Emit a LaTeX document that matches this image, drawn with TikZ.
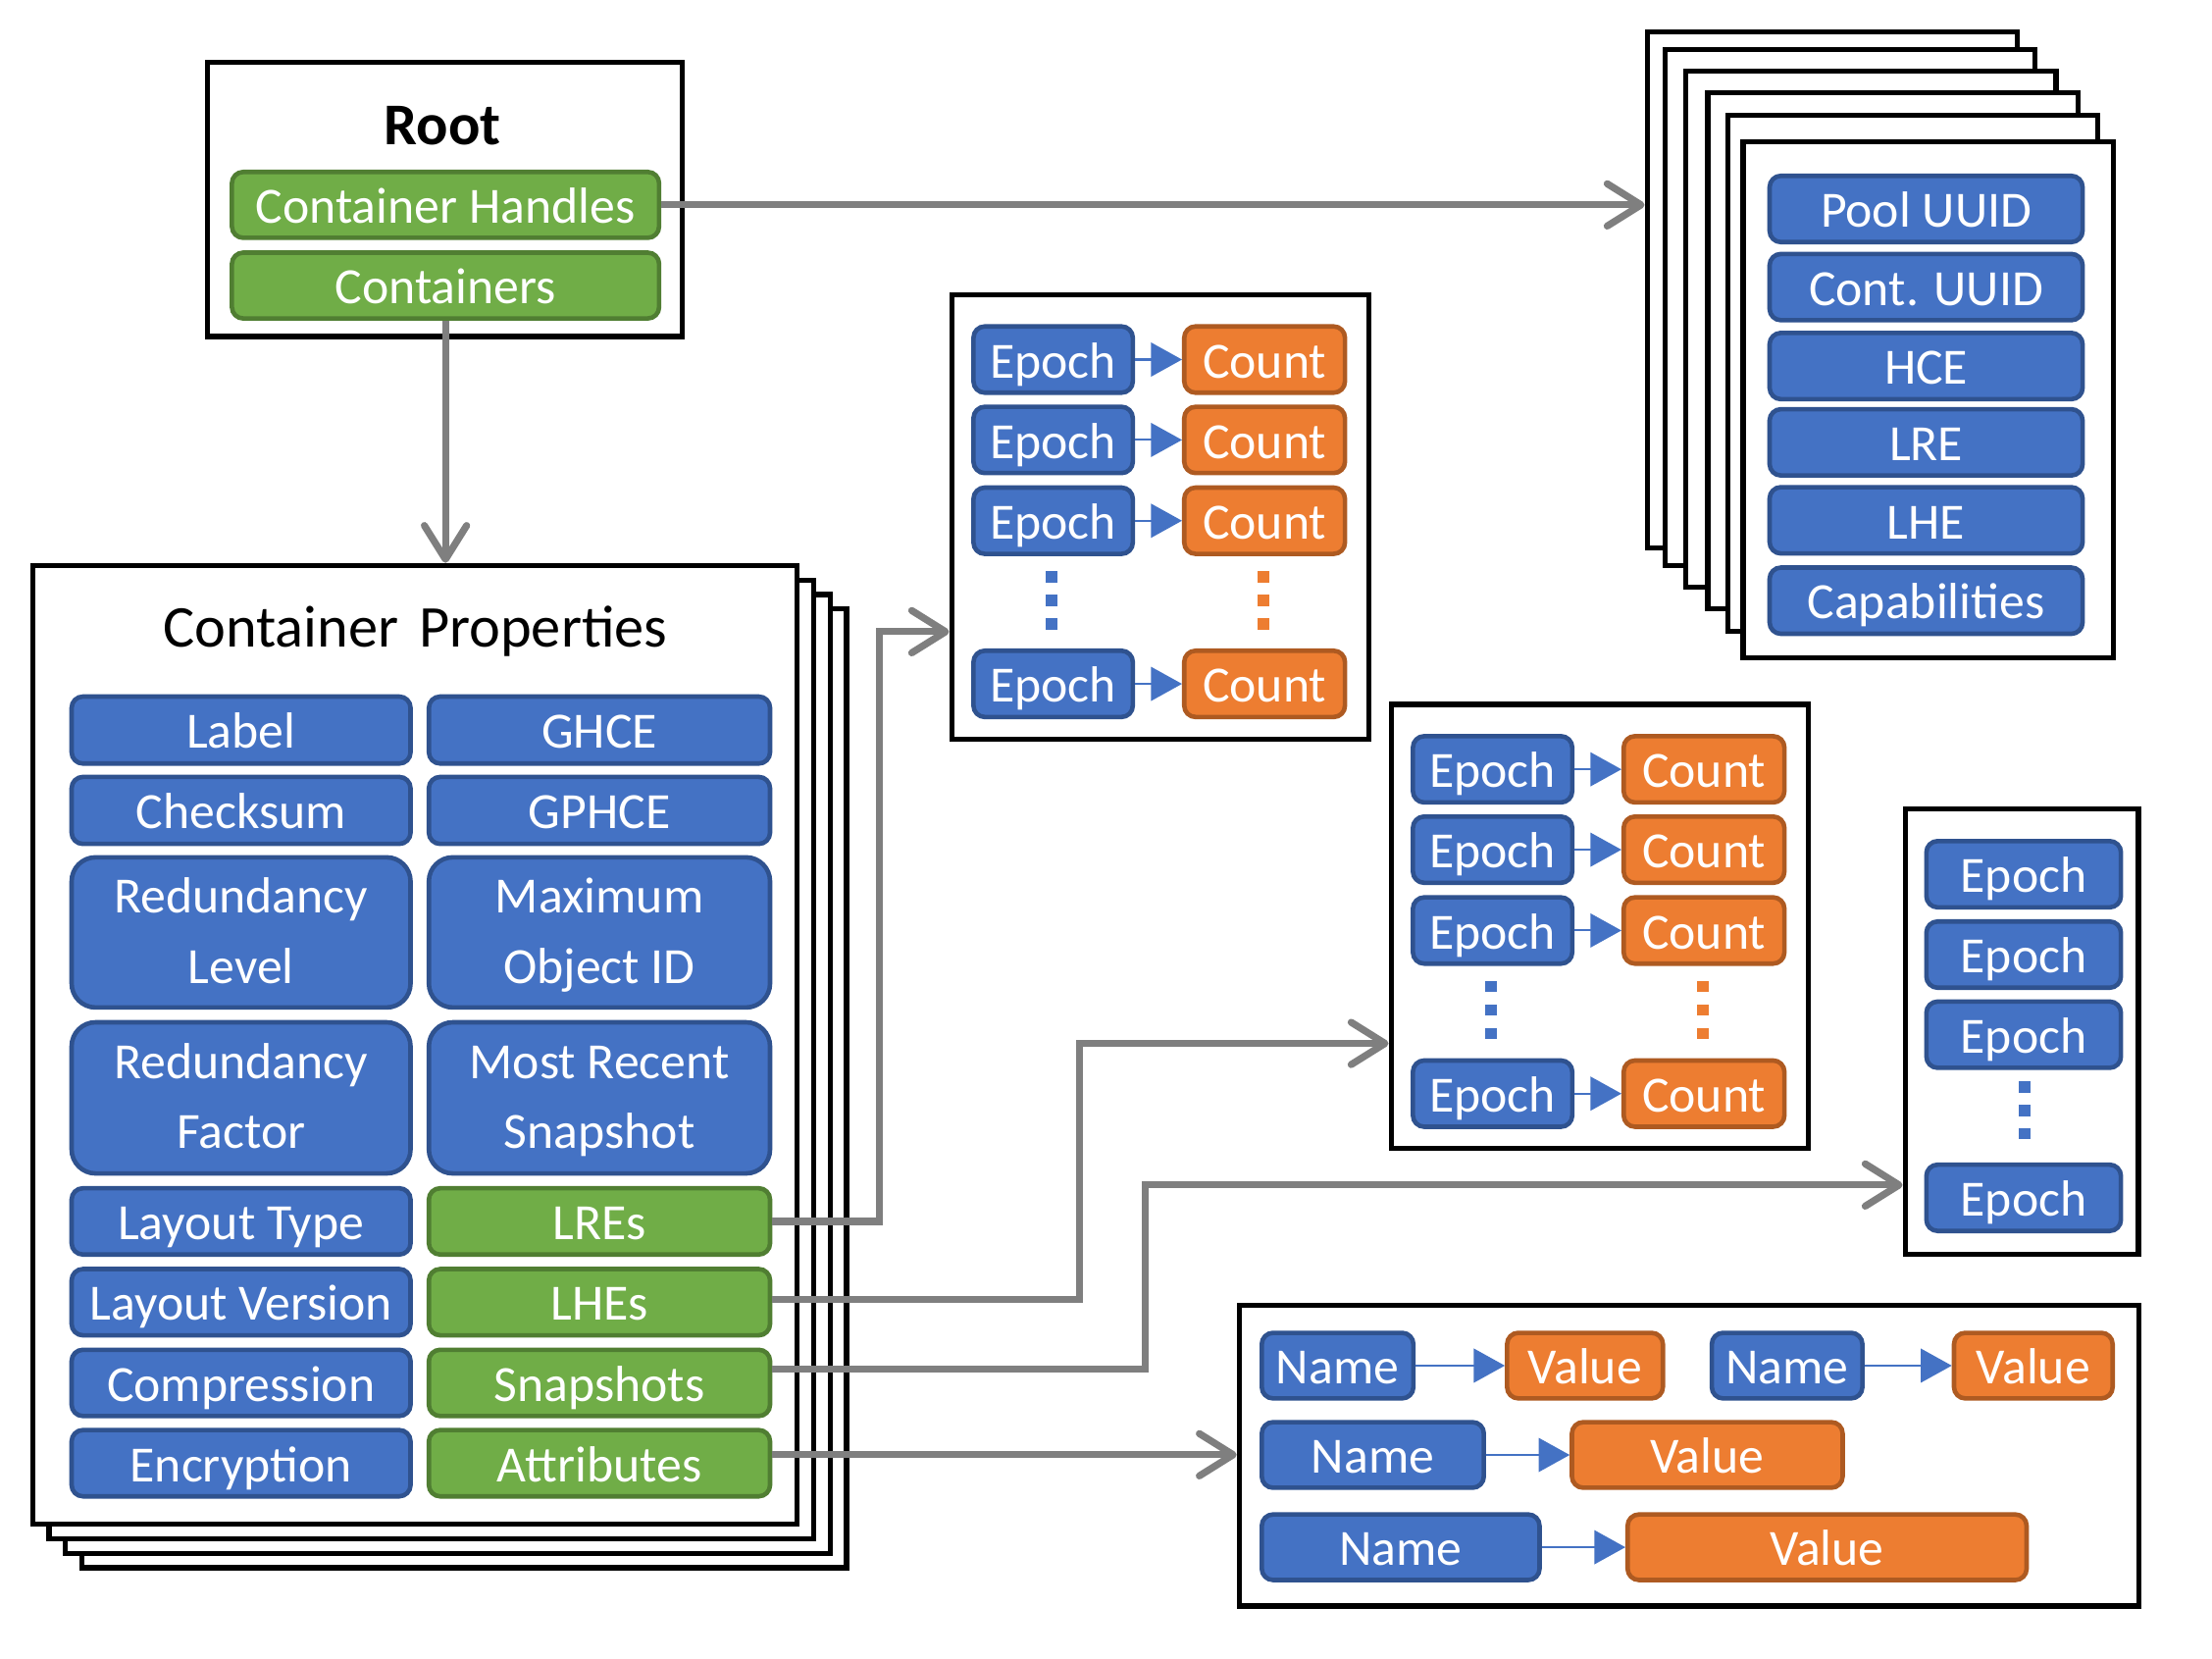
\documentclass[tikz,border=0pt]{standalone}
\usepackage{fontspec}
\setmainfont{Carlito}
\usetikzlibrary{arrows.meta}
\definecolor{bfill}{HTML}{4472C4}
\definecolor{bline}{HTML}{2F528F}
\definecolor{ofill}{HTML}{ED7D31}
\definecolor{oline}{HTML}{AE5A21}
\definecolor{gfill}{HTML}{70AD47}
\definecolor{gline}{HTML}{507E32}
\definecolor{conn}{HTML}{7F7F7F}
\newcommand{\lblfont}{\fontsize{36}{43}\selectfont}
\tikzset{
  pill/.style={rounded corners=8pt, line width=3.2pt, inner sep=0pt, text=white,
     font=\lblfont, text height=34pt, text depth=8pt, anchor=center},
  bluebox/.style={pill, fill=bfill, draw=bline},
  orangebox/.style={pill, fill=ofill, draw=oline},
  greenbox/.style={pill, fill=gfill, draw=gline},
  tallbox/.style={bluebox, rounded corners=17pt},
  lbltext/.style={anchor=base, inner sep=0pt, text=white, font=\lblfont},
  blackframe/.style={draw=black, line width=3.6pt, fill=white, inner sep=0pt},
  graylink/.style={draw=conn, line width=5pt, -{Straight Barb[length=24pt,width=30pt,round]}},
  smallarrow/.style={draw=bfill, line width=1.4pt, -{Triangle[length=22pt,width=24pt]}},
}
\newcommand{\ecpair}[3]{%
  \node[blackframe, minimum width=296pt, minimum height=315pt] (#1box) at ({#2+148},{#3+157.5}) {};
  \foreach \r/\dy in {a/46, b/103, c/160.3, d/276} {
    \node[bluebox, minimum width=113pt, minimum height=47pt] (#1e\r) at ({#2+72},{#3+\dy}) {Epoch};
    \node[orangebox, minimum width=114pt, minimum height=47pt] (#1c\r) at ({#2+222},{#3+\dy}) {Count};
    \draw[smallarrow] (#1e\r.east) -- (#1c\r.west);
  }
  \foreach \dy in {200, 216.7, 233.4} {
    \fill[bfill] ({#2+71-4},{#3+\dy-4}) rectangle ++(8,8);
    \fill[ofill] ({#2+221-4},{#3+\dy-4}) rectangle ++(8,8);
  }
}
\begin{document}
\begin{tikzpicture}[x=1pt,y=-1pt]
\useasboundingbox (0,0) rectangle (1569,1176);

% ---------- Root ----------
\node[blackframe, minimum width=336.5pt, minimum height=194.2pt] (root) at (315.55,141.5) {};
\node[anchor=base, inner sep=0pt, font=\bfseries\fontsize{42}{50}\selectfont] (roottitle) at (314,102.5) {Root};
\node[greenbox, minimum width=303pt, minimum height=46.7pt] (ch) at (316,145.3) {Container Handles};
\node[greenbox, minimum width=303pt, minimum height=46.7pt] (cont) at (316,202.5) {Containers};

% ---------- Handle stack ----------
\foreach \i/\l/\t in {0/1168.3/22.8, 1/1180.8/35.2, 2/1195.9/50.6, 3/1211.3/65.9, 4/1225.6/81.5, 5/1236.4/100.6}
  \node[blackframe, minimum width=262.5pt, minimum height=366pt] (cap\i) at ({\l+131.25},{\t+183}) {};
\foreach \n/\y/\s in {pool/148.2/Pool UUID, cuuid/203.6/Cont. UUID, hce/259.6/HCE, lre/313.7/LRE, lhe/369/LHE, capab/426/Capabilities}
  \node[bluebox, minimum width=222pt, minimum height=47pt] (\n) at (1366.2,\y) {\s};

% ---------- Container properties stack ----------
\foreach \k in {3,2,1}
  \node[blackframe, minimum width=542.4pt, minimum height=680pt] (cpl\k) at ({294.4+11.6*\k},{741+10.3*\k}) {};
\node[blackframe, minimum width=542.4pt, minimum height=680pt] (cp) at (294.4,741) {};
\node[anchor=base, inner sep=0pt, font=\fontsize{42}{50}\selectfont] (cptitle) at (294.5,459) {Container\hspace{5pt} Properties};

\node[bluebox, minimum width=240.4pt, minimum height=47.5pt] (label) at (171,517.75) {Label};
\node[bluebox, minimum width=242pt, minimum height=47.5pt] (ghce) at (425.2,517.75) {GHCE};
\node[bluebox, minimum width=240.4pt, minimum height=47.5pt] (checksum) at (171,574.75) {Checksum};
\node[bluebox, minimum width=242pt, minimum height=47.5pt] (gphce) at (425.2,574.75) {GPHCE};

\node[tallbox, minimum width=240.4pt, minimum height=106.5pt] (redlev) at (171,661.25) {};
\node[lbltext] (redlev1) at ([yshift=13.5pt]redlev.center) {Redundancy};
\node[lbltext] (redlev2) at ([yshift=-36pt]redlev.center) {Level};
\node[tallbox, minimum width=242pt, minimum height=106.5pt] (maxoid) at (425.2,661.25) {};
\node[lbltext] (maxoid1) at ([yshift=13.5pt]maxoid.center) {Maximum};
\node[lbltext] (maxoid2) at ([yshift=-36pt]maxoid.center) {Object ID};

\node[tallbox, minimum width=240.4pt, minimum height=107.2pt] (redfac) at (171,778.6) {};
\node[lbltext] (redfac1) at ([yshift=13.5pt]redfac.center) {Redundancy};
\node[lbltext] (redfac2) at ([yshift=-36pt]redfac.center) {Factor};
\node[tallbox, minimum width=242pt, minimum height=107.2pt] (mrs) at (425.2,778.6) {};
\node[lbltext] (mrs1) at ([yshift=13.5pt]mrs.center) {Most Recent};
\node[lbltext] (mrs2) at ([yshift=-36pt]mrs.center) {Snapshot};

\node[bluebox, minimum width=240.4pt, minimum height=47pt] (laytype) at (171,866.2) {Layout Type};
\node[greenbox, minimum width=242pt, minimum height=47pt] (lres) at (425.2,866.2) {LREs};
\node[bluebox, minimum width=240.4pt, minimum height=47pt] (layver) at (171,923.5) {Layout Version};
\node[greenbox, minimum width=242pt, minimum height=47pt] (lhes) at (425.2,923.5) {LHEs};
\node[bluebox, minimum width=240.4pt, minimum height=47pt] (compr) at (171,980.75) {Compression};
\node[greenbox, minimum width=242pt, minimum height=47pt] (snaps) at (425.2,980.75) {Snapshots};
\node[bluebox, minimum width=240.4pt, minimum height=47pt] (encr) at (171,1037.7) {Encryption};
\node[greenbox, minimum width=242pt, minimum height=47pt] (attrs) at (425.2,1037.7) {Attributes};

% ---------- Epoch / Count boxes ----------
\ecpair{p}{675}{209}
\ecpair{q}{986.7}{499.6}

% ---------- Snapshot epochs ----------
\node[blackframe, minimum width=165.5pt, minimum height=316pt] (sbox) at (1434.05,731.4) {};
\foreach \r/\y in {a/620, b/677, c/733.8, d/849.5}
  \node[bluebox, minimum width=138pt, minimum height=47pt] (s\r) at (1435.4,\y) {Epoch};
\foreach \y in {771, 787.5, 804}
  \fill[bfill] (1432,{\y-4}) rectangle ++(8,8);

% ---------- Attributes ----------
\node[blackframe, minimum width=638pt, minimum height=213pt] (abox) at (1198,1032.5) {};
\node[bluebox, minimum width=107.5pt, minimum height=46.5pt] (na1) at (948.75,968.5) {Name};
\node[orangebox, minimum width=110.5pt, minimum height=46.5pt] (va1) at (1124.25,968.5) {Value};
\node[bluebox, minimum width=106.8pt, minimum height=46.5pt] (na2) at (1267.6,968.5) {Name};
\node[orangebox, minimum width=112.5pt, minimum height=46.5pt] (va2) at (1442.25,968.5) {Value};
\node[bluebox, minimum width=157.5pt, minimum height=46.5pt] (na3) at (973.75,1031.85) {Name};
\node[orangebox, minimum width=192pt, minimum height=46.5pt] (va3) at (1211,1031.85) {Value};
\node[bluebox, minimum width=197pt, minimum height=46.5pt] (na4) at (993.5,1097.3) {Name};
\node[orangebox, minimum width=283pt, minimum height=46.5pt] (va4) at (1296,1097.3) {Value};
\draw[smallarrow] (na1.east) -- (va1.west);
\draw[smallarrow] (na2.east) -- (va2.west);
\draw[smallarrow] (na3.east) -- (va3.west);
\draw[smallarrow] (na4.east) -- (va4.west);

% ---------- Connectors ----------
\draw[graylink] (ch.east) -- (ch.east -| cap0.west);
\draw[graylink] (cont.south) -- (cont.south |- cp.north);
\coordinate (b1) at (623.5,448);
\draw[graylink] (lres.east) -| (b1) -- (b1 -| pbox.west);
\coordinate (b2) at (765.5,740);
\draw[graylink] ([yshift=2pt]lhes.east) -| (b2) -- (b2 -| qbox.west);
\coordinate (b3) at (812.3,840.4);
\draw[graylink] ([yshift=10pt]snaps.east) -| (b3) -- (b3 -| sbox.west);
\draw[graylink] ([yshift=6pt]attrs.east) -- ([yshift=6pt]attrs.east -| abox.west);
\end{tikzpicture}
\end{document}
